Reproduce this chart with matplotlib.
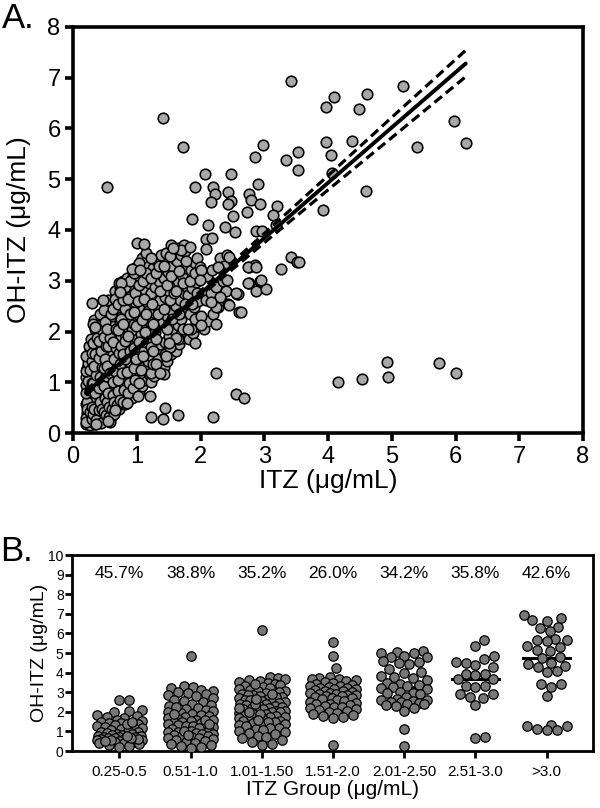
import matplotlib
matplotlib.use("Agg")
import matplotlib.pyplot as plt
import numpy as np

plt.rcParams['font.family'] = ['Liberation Sans', 'DejaVu Sans']

# ---- panel A: ITZ vs OH-ITZ, dense core of the cloud
core_pts = [
    (0.21, 0.18), (0.23, 0.25), (0.25, 0.32), (0.22, 0.40), (0.27, 0.22), (0.24, 0.50), (0.21, 0.58),
    (0.26, 0.65), (0.23, 0.72), (0.28, 0.45), (0.22, 0.85), (0.25, 0.92), (0.27, 1.02), (0.21, 1.10),
    (0.24, 1.18), (0.28, 0.80), (0.22, 1.28), (0.26, 1.35), (0.23, 1.45), (0.29, 1.12), (0.25, 1.55),
    (0.21, 0.95), (0.28, 0.60), (0.30, 0.35), (0.24, 0.28), (0.27, 1.65), (0.26, 0.15),
    (0.31, 0.22), (0.34, 0.30), (0.37, 0.42), (0.32, 0.55), (0.36, 0.62), (0.39, 0.75), (0.33, 0.85),
    (0.38, 0.95), (0.35, 1.05), (0.31, 1.20), (0.37, 1.30), (0.34, 1.42), (0.39, 1.52), (0.32, 1.62),
    (0.36, 1.75), (0.33, 1.88), (0.38, 1.98), (0.35, 0.18), (0.40, 0.28), (0.31, 0.70), (0.39, 1.12),
    (0.34, 2.05), (0.37, 1.60), (0.36, 0.50),
    (0.41, 0.25), (0.44, 0.38), (0.47, 0.30), (0.42, 0.52), (0.46, 0.65), (0.49, 0.80), (0.43, 0.90),
    (0.48, 1.00), (0.45, 1.12), (0.41, 1.25), (0.47, 1.35), (0.44, 1.48), (0.49, 1.58), (0.42, 1.70),
    (0.46, 1.82), (0.43, 1.95), (0.48, 2.08), (0.45, 2.20), (0.42, 0.75), (0.50, 1.20), (0.44, 1.05),
    (0.47, 2.30), (0.41, 2.00),
    (0.52, 0.28), (0.55, 0.40), (0.58, 0.22), (0.51, 0.55), (0.56, 0.68), (0.59, 0.82), (0.53, 0.95),
    (0.57, 1.08), (0.54, 1.20), (0.60, 1.32), (0.52, 1.45), (0.56, 1.58), (0.59, 1.70), (0.53, 1.85),
    (0.57, 1.98), (0.55, 2.12), (0.60, 2.25), (0.52, 2.38), (0.58, 2.48), (0.54, 1.00), (0.60, 0.50),
    (0.56, 2.55),
    (0.62, 0.35), (0.66, 0.45), (0.63, 0.60), (0.68, 0.72), (0.61, 0.88), (0.65, 1.00), (0.69, 1.15),
    (0.64, 1.28), (0.67, 1.40), (0.62, 1.55), (0.70, 1.62), (0.66, 1.75), (0.63, 1.90), (0.69, 2.02),
    (0.65, 2.15), (0.61, 2.30), (0.68, 2.42), (0.64, 2.55), (0.70, 2.68), (0.66, 2.80), (0.62, 1.10),
    (0.70, 0.90),
    (0.72, 0.48), (0.76, 0.58), (0.79, 0.70), (0.73, 0.85), (0.77, 0.98), (0.71, 1.12), (0.75, 1.25),
    (0.79, 1.38), (0.74, 1.52), (0.78, 1.65), (0.72, 1.78), (0.76, 1.92), (0.80, 2.05), (0.73, 2.18),
    (0.77, 2.32), (0.71, 2.48), (0.75, 2.60), (0.79, 2.72), (0.74, 2.88), (0.78, 3.00), (0.80, 1.00),
    (0.72, 2.95),
    (0.82, 0.58), (0.86, 0.70), (0.89, 0.85), (0.83, 1.00), (0.87, 1.12), (0.81, 1.25), (0.85, 1.40),
    (0.90, 1.52), (0.84, 1.65), (0.88, 1.80), (0.82, 1.95), (0.86, 2.08), (0.90, 2.20), (0.83, 2.35),
    (0.87, 2.50), (0.81, 2.62), (0.85, 2.78), (0.89, 2.90), (0.84, 3.05), (0.88, 1.30),
    (0.92, 0.68), (0.96, 0.80), (0.99, 0.95), (0.93, 1.08), (0.97, 1.22), (0.91, 1.35), (0.95, 1.50),
    (1.00, 1.62), (0.94, 1.75), (0.98, 1.90), (0.92, 2.02), (0.96, 2.15), (1.00, 2.30), (0.93, 2.45),
    (0.97, 2.58), (0.91, 2.70), (0.95, 2.85), (0.99, 2.98), (0.94, 3.10), (0.98, 3.25),
    (1.03, 0.80), (1.08, 0.92), (1.14, 1.05), (1.05, 1.18), (1.11, 1.30), (1.17, 1.42), (1.02, 1.55),
    (1.09, 1.68), (1.15, 1.80), (1.06, 1.95), (1.12, 2.08), (1.19, 2.20), (1.04, 2.32), (1.10, 2.45),
    (1.16, 2.58), (1.07, 2.70), (1.13, 2.82), (1.19, 2.95), (1.05, 3.08), (1.11, 3.20), (1.17, 3.32),
    (1.08, 3.45), (1.14, 3.55), (1.20, 1.15), (1.18, 2.40),
    (1.22, 1.00), (1.27, 1.12), (1.33, 1.25), (1.38, 1.38), (1.24, 1.50), (1.30, 1.62), (1.36, 1.75),
    (1.21, 1.88), (1.28, 2.00), (1.34, 2.12), (1.39, 2.25), (1.25, 2.38), (1.31, 2.50), (1.37, 2.62),
    (1.23, 2.75), (1.29, 2.88), (1.35, 3.00), (1.40, 3.12), (1.26, 3.25), (1.32, 3.38), (1.38, 3.50),
    (1.33, 1.45),
    (1.42, 1.30), (1.47, 1.42), (1.53, 1.55), (1.58, 1.68), (1.44, 1.80), (1.50, 1.92), (1.56, 2.05),
    (1.41, 2.18), (1.48, 2.30), (1.54, 2.42), (1.59, 2.55), (1.45, 2.68), (1.51, 2.80), (1.57, 2.92),
    (1.43, 3.05), (1.49, 3.18), (1.55, 3.30), (1.60, 3.42), (1.46, 3.55),
    (1.62, 1.62), (1.67, 1.75), (1.73, 1.88), (1.78, 2.00), (1.64, 2.12), (1.70, 2.25), (1.76, 2.38),
    (1.61, 2.50), (1.68, 2.62), (1.74, 2.75), (1.79, 2.88), (1.65, 3.00), (1.71, 3.12), (1.77, 3.25),
    (1.63, 3.38), (1.69, 3.50), (1.75, 3.58),
    (1.82, 1.85), (1.88, 1.98), (1.94, 2.10), (1.99, 2.22), (1.84, 2.35), (1.90, 2.48), (1.96, 2.60),
    (1.81, 2.72), (1.87, 2.85), (1.93, 2.98), (1.98, 3.10), (1.85, 3.22), (1.91, 3.35),
    (2.05, 2.05), (2.12, 2.20), (2.20, 2.35), (2.28, 2.48), (2.08, 2.62), (2.16, 2.75), (2.24, 2.88),
    (2.35, 3.00), (2.10, 3.10), (2.18, 3.22), (2.32, 2.62), (2.40, 2.80),
]

# more points filling the dark low-concentration corner
core_pts2 = [
    (0.20, 0.30), (0.22, 0.62), (0.20, 0.78), (0.23, 1.02), (0.20, 1.22), (0.24, 1.38), (0.21, 1.52),
    (0.25, 1.72), (0.22, 0.48), (0.20, 0.22), (0.26, 0.42), (0.29, 0.52), (0.26, 0.85), (0.29, 0.98),
    (0.27, 1.25), (0.29, 1.42), (0.28, 1.85), (0.30, 1.58), (0.30, 0.90), (0.29, 0.28),
    (0.32, 0.38), (0.33, 0.48), (0.35, 0.78), (0.32, 0.98), (0.36, 1.15), (0.33, 1.32), (0.35, 1.55),
    (0.31, 1.78), (0.37, 1.88), (0.33, 2.22), (0.38, 2.12), (0.36, 0.25),
    (0.40, 0.45), (0.43, 0.62), (0.40, 0.88), (0.42, 1.10), (0.45, 1.30), (0.40, 1.48), (0.44, 1.62),
    (0.41, 1.82), (0.45, 2.02), (0.43, 2.35), (0.46, 0.48), (0.44, 0.20),
    (0.48, 0.42), (0.50, 0.68), (0.49, 0.92), (0.51, 1.12), (0.48, 1.28), (0.50, 1.45), (0.51, 1.72),
    (0.48, 1.90), (0.50, 2.18), (0.49, 2.42), (0.51, 0.35),
    (0.53, 0.62), (0.55, 0.78), (0.57, 0.52), (0.54, 1.32), (0.58, 1.18), (0.55, 1.72), (0.58, 1.88),
    (0.53, 2.05), (0.59, 2.35), (0.55, 2.62), (0.57, 0.32),
    (0.61, 0.48), (0.63, 0.75), (0.65, 0.62), (0.62, 1.00), (0.66, 1.22), (0.64, 1.45), (0.67, 1.68),
    (0.63, 1.80), (0.67, 2.05), (0.62, 2.45), (0.66, 2.65), (0.64, 0.38),
    (0.69, 0.55), (0.71, 0.82), (0.73, 0.65), (0.70, 1.05), (0.74, 1.35), (0.72, 1.58), (0.75, 1.72),
    (0.71, 2.02), (0.75, 2.25), (0.70, 2.55), (0.74, 2.78),
    (0.78, 0.62), (0.80, 0.85), (0.77, 1.18), (0.81, 1.45), (0.78, 1.55), (0.82, 1.82), (0.79, 2.15),
    (0.82, 2.45), (0.78, 2.62), (0.81, 2.88),
    (0.86, 0.78), (0.88, 0.98), (0.85, 1.20), (0.89, 1.62), (0.86, 1.92), (0.90, 2.35), (0.87, 2.65),
    (0.90, 3.00),
    (0.94, 0.88), (0.97, 1.05), (0.95, 1.28), (0.99, 1.45), (0.96, 1.68), (0.99, 2.10), (0.95, 2.38),
    (0.98, 2.75), (0.96, 3.15),
    (1.03, 0.98), (1.07, 1.25), (1.10, 1.52), (1.04, 1.80), (1.13, 2.00), (1.08, 2.22), (1.14, 2.35),
    (1.02, 2.60), (1.12, 2.65), (1.03, 2.92), (1.10, 3.00), (1.15, 3.15), (1.04, 3.35),
    (1.22, 1.18), (1.26, 1.35), (1.22, 1.70), (1.30, 1.85), (1.25, 2.15), (1.33, 2.35), (1.24, 2.55),
    (1.36, 2.80), (1.22, 3.05), (1.30, 3.15), (1.35, 3.30),
    (1.45, 1.55), (1.52, 1.70), (1.47, 2.05), (1.55, 2.25), (1.42, 2.45), (1.52, 2.62), (1.58, 2.75),
    (1.47, 2.92), (1.54, 3.10), (1.42, 3.30), (1.52, 3.48),
    (1.65, 1.85), (1.72, 2.05), (1.66, 2.35), (1.75, 2.55), (1.62, 2.80), (1.72, 2.95), (1.67, 3.20),
    (1.78, 3.38),
    (1.85, 2.05), (1.92, 2.25), (1.86, 2.55), (1.95, 2.75), (1.83, 3.00), (1.92, 3.15),
]

# scattered points around the core and the outliers
spread_pts = [
    (3.42, 6.94), (1.41, 6.21), (1.73, 5.64), (0.54, 4.85), (2.98, 5.67), (2.85, 5.43), (3.34, 5.37),
    (3.53, 5.54), (3.53, 5.18), (2.07, 5.11), (2.48, 5.11), (1.92, 4.85), (2.20, 4.85), (2.23, 4.71),
    (2.17, 4.55), (2.43, 4.75), (2.48, 4.58), (2.43, 4.51), (2.90, 4.90), (2.76, 4.70), (2.79, 4.59),
    (2.93, 4.52), (2.73, 4.36), (3.20, 4.48), (3.13, 4.29), (2.51, 4.28), (1.87, 4.21), (2.12, 4.09),
    (2.38, 4.06), (2.54, 3.96), (2.87, 3.98), (2.97, 3.98), (3.19, 4.09), (2.09, 3.83), (2.18, 3.85),
    (1.00, 3.75), (1.11, 3.73), (1.23, 3.44), (1.54, 3.70), (1.65, 3.64), (1.74, 3.70), (1.70, 3.60),
    (2.09, 3.63), (1.94, 3.44), (1.99, 3.28), (2.30, 3.45), (2.37, 3.30), (2.41, 3.50), (2.76, 3.27),
    (2.86, 3.31), (3.27, 3.24), (3.42, 3.47), (3.51, 3.37), (2.76, 2.96), (2.93, 3.00), (2.87, 2.80),
    (3.03, 2.83), (2.58, 2.74), (2.61, 2.39), (2.43, 2.54), (2.31, 2.68), (2.25, 2.49), (2.17, 2.58),
    (2.25, 2.14), (2.01, 2.30), (2.01, 2.13), (1.91, 1.77), (2.41, 3.01), (2.25, 1.18), (2.56, 0.77),
    (2.68, 0.68), (2.19, 0.31), (4.16, 1.01), (4.54, 1.06), (4.93, 1.39), (4.94, 1.10), (5.74, 1.37),
    (6.00, 1.18), (5.17, 6.83), (4.09, 6.63), (3.97, 6.42), (4.61, 6.67), (4.48, 6.39), (5.98, 6.14),
    (6.16, 5.72), (3.97, 5.73), (4.37, 5.75), (4.04, 5.47), (5.39, 5.63), (4.06, 5.13), (4.59, 4.77),
    (3.92, 4.40), (1.23, 0.32), (1.41, 0.28), (1.44, 0.50), (1.64, 0.36), (0.30, 2.57), (0.47, 2.62),
    (0.32, 2.15), (0.35, 2.08), (1.46, 1.52), (1.43, 1.17), (1.30, 1.35), (1.37, 1.19), (1.20, 0.73),
    (1.02, 0.73), (0.84, 0.59), (0.66, 0.46), (0.55, 0.23), (0.36, 0.18), (1.80, 2.05), (1.62, 1.88),
    (1.50, 1.78), (1.26, 1.62), (2.45, 2.52), (2.63, 2.38), (2.59, 2.73), (0.92, 3.24), (1.05, 3.21),
    (0.76, 2.95), (0.74, 2.78), (2.01, 3.21), (1.99, 3.01), (1.57, 3.64), (1.83, 3.67), (2.28, 3.28),
    (2.45, 3.47), (2.74, 3.28), (2.87, 3.28), (2.56, 2.76), (2.95, 3.01), (2.74, 2.95), (3.55, 3.37),
]

# linear fit and its 95% band
fit_x = [0.2, 1.0, 2.0, 3.0, 4.0, 5.0, 6.16]
fit_y = [0.79, 1.66, 2.75, 3.84, 4.93, 6.02, 7.28]
ci_lo = [0.74, 1.63, 2.70, 3.75, 4.79, 5.82, 7.02]
ci_hi = [0.84, 1.69, 2.80, 3.93, 5.07, 6.22, 7.54]

# ---- panel B: OH-ITZ by ITZ group
groups = ['0.25-0.5', '0.51-1.0', '1.01-1.50', '1.51-2.0', '2.01-2.50', '2.51-3.0', '>3.0']
pct_labels = ['45.7%', '38.8%', '35.2%', '26.0%', '34.2%', '35.8%', '42.6%']

g1 = [2.62, 2.58, 2.1, 2.05, 2.0, 1.85, 1.8, 1.75, 1.68, 1.6, 1.55, 1.5, 1.45, 1.42, 1.4, 1.35, 1.3,
      1.25, 1.2, 1.15, 1.1, 1.05, 1.0, 0.98, 0.95, 0.9, 0.88, 0.85, 0.82, 0.8, 0.78, 0.75, 0.72, 0.7,
      0.68, 0.65, 0.62, 0.6, 0.58, 0.55, 0.52, 0.5, 0.48, 0.45, 0.42, 0.4, 0.35, 0.3, 0.25, 0.2, 0.7,
      0.6, 0.55, 0.5, 1.4, 1.5, 0.65, 0.75]
g2 = [4.85, 3.3, 3.25, 3.2, 3.1, 3.05, 3.0, 2.95, 2.9, 2.85, 2.7, 2.6, 2.55, 2.5, 2.4, 2.35, 2.3, 2.2,
      2.15, 2.1, 2.05, 2.0, 1.95, 1.9, 1.85, 1.8, 1.75, 1.7, 1.65, 1.6, 1.58, 1.55, 1.5, 1.48, 1.45,
      1.4, 1.35, 1.3, 1.28, 1.25, 1.2, 1.15, 1.1, 1.05, 1.0, 0.98, 0.95, 0.9, 0.88, 0.85, 0.8, 0.78,
      0.75, 0.7, 0.68, 0.65, 0.6, 0.55, 0.5, 0.45, 0.4, 0.35, 0.3, 0.25, 0.2, 0.15, 2.25, 1.9, 1.6,
      1.4, 1.0, 0.8, 2.8]
g3 = [6.2, 3.78, 3.75, 3.7, 3.62, 3.55, 3.5, 3.45, 3.42, 3.38, 3.3, 3.25, 3.22, 3.18, 3.12, 3.08, 3.05,
      3.0, 2.95, 2.92, 2.88, 2.85, 2.8, 2.78, 2.75, 2.7, 2.68, 2.62, 2.6, 2.55, 2.52, 2.5, 2.45, 2.42,
      2.38, 2.35, 2.3, 2.28, 2.25, 2.2, 2.18, 2.15, 2.12, 2.1, 2.05, 2.02, 2.0, 1.98, 1.95, 1.9, 1.88,
      1.85, 1.8, 1.75, 1.72, 1.68, 1.62, 1.58, 1.55, 1.52, 1.5, 1.48, 1.45, 1.4, 1.35, 1.32, 1.28, 1.2,
      1.15, 1.1, 1.05, 1.0, 0.95, 0.9, 0.85, 0.75, 0.7, 0.65, 0.55, 0.45, 0.35, 0.3, 2.9, 2.4, 2.2,
      2.0, 1.9, 1.6, 3.4, 2.65]
g4 = [5.58, 4.85, 4.22, 3.8, 3.74, 3.7, 3.66, 3.6, 3.55, 3.52, 3.45, 3.4, 3.38, 3.33, 3.3, 3.27, 3.24,
      3.2, 3.17, 3.14, 3.1, 3.07, 3.04, 3.0, 2.97, 2.95, 2.92, 2.9, 2.87, 2.84, 2.81, 2.79, 2.76, 2.73,
      2.7, 2.66, 2.6, 2.56, 2.5, 2.46, 2.42, 2.39, 2.35, 2.31, 2.27, 2.24, 2.2, 2.16, 2.1, 2.05, 2.0,
      1.94, 1.9, 1.84, 1.8, 1.76, 1.7, 0.31]
g5 = [5.1, 5.05, 5.02, 5.0, 4.85, 4.8, 4.78, 4.6, 4.55, 4.5, 4.45, 4.2, 4.05, 4.0, 3.85, 3.8, 3.75,
      3.6, 3.45, 3.4, 3.35, 3.32, 3.28, 3.2, 3.15, 3.0, 2.98, 2.95, 2.9, 2.75, 2.65, 2.6, 2.58, 2.55,
      2.52, 2.5, 2.45, 2.42, 2.38, 2.35, 2.3, 2.2, 2.05, 1.1, 0.27]
g6 = [5.66, 5.36, 4.85, 4.68, 4.56, 4.48, 4.4, 4.31, 3.95, 3.93, 3.9, 3.68, 3.65, 3.31, 3.3, 3.28,
      2.93, 2.9, 2.76, 2.73, 2.34, 0.71, 0.66]
g7 = [6.94, 6.8, 6.68, 6.65, 6.33, 6.3, 6.1, 5.7, 5.68, 5.65, 5.62, 5.35, 5.3, 5.15, 5.12, 4.78, 4.74,
      4.5, 4.45, 4.32, 4.3, 4.08, 4.05, 3.42, 3.4, 3.25, 2.8, 1.35, 1.3, 1.28, 1.1, 1.08, 1.05]
group_vals = [g1, g2, g3, g4, g5, g6, g7]


def swarm(vals, xs=71.3, ys=19.6, diam=9.6, half_w=0.32, step=0.02):
    # place each point at the nearest free side offset, overlap only when the row is full
    vals = np.asarray(vals, dtype=float)
    n_c = int(half_w / step)
    cands = [0.0]
    for k in range(1, n_c + 1):
        cands += [k * step, -k * step]
    offs = np.zeros(len(vals))
    placed = []
    for i in np.argsort(vals):
        y = vals[i] * ys
        best, best_d = 0.0, -1.0
        for c in cands:
            x = c * xs
            d = min([np.hypot(x - px, y - py) for px, py in placed] + [1e9])
            if d >= diam:
                best = c
                break
            if d > best_d:
                best_d, best = d, c
        offs[i] = best
        placed.append((best * xs, y))
    return offs


fig = plt.figure(figsize=(6, 8.08), dpi=100)

# ---------------- A
axA = fig.add_axes([0.1217, 0.4641, 0.85, 0.5025])
pts = np.array(core_pts + core_pts2 + spread_pts)
axA.scatter(pts[:, 0], pts[:, 1], s=58, c='#a8a8a8', edgecolors='black', linewidths=1.15, zorder=2)
axA.plot(fit_x, fit_y, color='black', lw=2.8, solid_capstyle='round', zorder=3)
axA.plot(fit_x, ci_lo, color='black', lw=2.3, dashes=(3.0, 1.6), zorder=3)
axA.plot(fit_x, ci_hi, color='black', lw=2.3, dashes=(3.0, 1.6), zorder=3)
axA.set_xlim(0, 8)
axA.set_ylim(0, 8)
axA.set_xticks(range(9))
axA.set_yticks(range(9))
for sp in axA.spines.values():
    sp.set_linewidth(2.6)
axA.tick_params(width=2.6, length=6, labelsize=17, pad=3)
axA.set_xlabel('ITZ (μg/mL)', fontsize=19)
axA.set_ylabel('OH-ITZ (μg/mL)', fontsize=19)
axA.xaxis.set_label_coords(0.5, -0.088)
axA.yaxis.set_label_coords(-0.083, 0.5)
fig.text(0.003, 0.998, 'A.', fontsize=25, va='top', ha='left')

# ---------------- B
axB = fig.add_axes([0.12, 0.0705, 0.8683, 0.2426])
xpos = np.arange(len(groups))
for i, vals in enumerate(group_vals):
    med = np.median(vals)
    axB.plot([i - 0.33, i + 0.33], [med, med], color='black', lw=2.2, zorder=2)
    axB.scatter(i + swarm(vals), vals, s=46, c='#787878', edgecolors='black', linewidths=0.9, zorder=3)
    axB.text(i, 9.05, pct_labels[i], ha='center', va='center', fontsize=12.5)
axB.set_xlim(-0.666, 6.65)
axB.set_ylim(0, 10)
axB.set_yticks(range(11))
axB.set_xticks(xpos)
axB.set_xticklabels(groups)
for sp in axB.spines.values():
    sp.set_linewidth(2.0)
axB.tick_params(axis='y', width=2.0, length=5, labelsize=10, pad=1)
axB.tick_params(axis='x', width=2.0, length=5, labelsize=11, pad=5)
axB.set_xlabel('ITZ Group (μg/mL)', fontsize=15)
axB.set_ylabel('OH-ITZ (μg/mL)', fontsize=14)
axB.xaxis.set_label_coords(0.5, -0.15)
axB.yaxis.set_label_coords(-0.046, 0.5)
fig.text(0.0, 0.338, 'B.', fontsize=25, va='top', ha='left')

fig.savefig('out.png', dpi=100)
